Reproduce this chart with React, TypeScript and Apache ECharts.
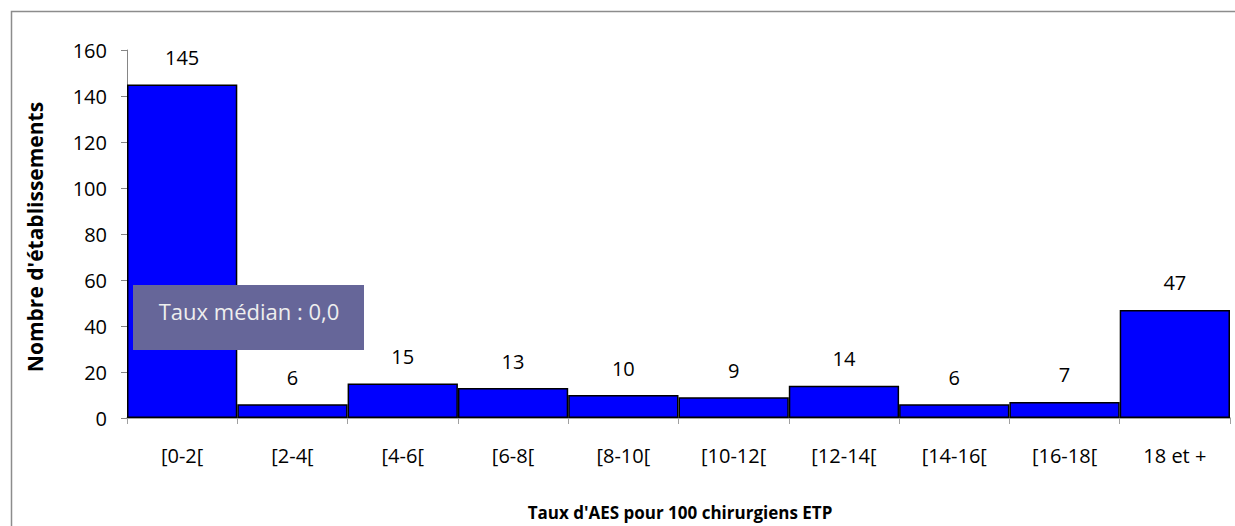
import React, { useEffect, useRef } from "react";
import * as echarts from "echarts";

const categories = ["[0-2[", "[2-4[", "[4-6[", "[6-8[", "[8-10[", "[10-12[", "[12-14[", "[14-16[", "[16-18[", "18 et +"];
const counts = [145, 6, 15, 13, 10, 9, 14, 6, 7, 47];
const yTicks = { min: 0, max: 160, interval: 20 };
const yTitle = "Nombre d'établissements";
const xTitle = "Taux d'AES pour 100 chirurgiens ETP";
const medianNote = "Taux médian : 0,0";

const FONT = "'Open Sans', 'Noto Sans', sans-serif";

export default function App() {
  const ref = useRef<HTMLDivElement>(null);
  useEffect(() => {
    document.body.style.margin = "0";
    const chart = echarts.init(ref.current!, null, { renderer: "svg" });
    chart.setOption({
      animation: false,
      backgroundColor: "#ffffff",
      grid: { left: 127, top: 50, right: 5, bottom: 108, containLabel: false },
      xAxis: {
        type: "category",
        data: categories,
        axisLine: { lineStyle: { color: "#868686", width: 1.5 } },
        axisTick: { show: true, length: 6, lineStyle: { color: "#a0a0a0" }, alignWithLabel: false },
        axisLabel: { color: "#000", fontSize: 20, fontFamily: FONT, margin: 27 },
        splitLine: { show: false },
      },
      yAxis: {
        type: "value",
        min: yTicks.min,
        max: yTicks.max,
        interval: yTicks.interval,
        axisLine: { show: true, lineStyle: { color: "#868686", width: 1 } },
        axisTick: { show: true, length: 6, lineStyle: { color: "#868686" } },
        axisLabel: { color: "#000", fontSize: 20, fontFamily: FONT, margin: 20 },
        splitLine: { show: false },
      },
      series: [
        {
          type: "bar",
          data: counts,
          barCategoryGap: "0%",
          itemStyle: { color: "#0000ff", borderColor: "#000000", borderWidth: 1.5 },
          label: {
            show: true,
            position: "top",
            distance: 17,
            color: "#000",
            fontSize: 20,
            fontFamily: FONT,
          },
        },
      ],
      graphic: [
        {
          type: "rect",
          left: 9,
          top: 9,
          shape: { x: 0, y: 0, width: 1250, height: 560 },
          style: { fill: "none", stroke: "#8c8c8c", lineWidth: 1.5 },
          silent: true,
          z: -1,
        },
        {
          type: "rect",
          shape: { x: 133, y: 285, width: 231, height: 65 },
          style: { fill: "#666699" },
          z: 10,
        },
        {
          type: "text",
          x: 249,
          y: 311,
          style: {
            text: medianNote,
            fill: "#eeeeee",
            font: `22px ${FONT}`,
            align: "center",
            verticalAlign: "middle",
          },
          z: 11,
        },
        {
          type: "text",
          x: 680,
          y: 512,
          style: {
            text: xTitle,
            fill: "#000",
            font: `bold 17px ${FONT}`,
            align: "center",
            verticalAlign: "middle",
          },
        },
        {
          type: "text",
          x: 35,
          y: 237,
          rotation: Math.PI / 2,
          style: {
            text: yTitle,
            fill: "#000",
            font: `bold 21px ${FONT}`,
            align: "center",
            verticalAlign: "middle",
          },
        },
      ],
    });
    return () => chart.dispose();
  }, []);
  return <div ref={ref} style={{ width: 1235, height: 526 }} />;
}
